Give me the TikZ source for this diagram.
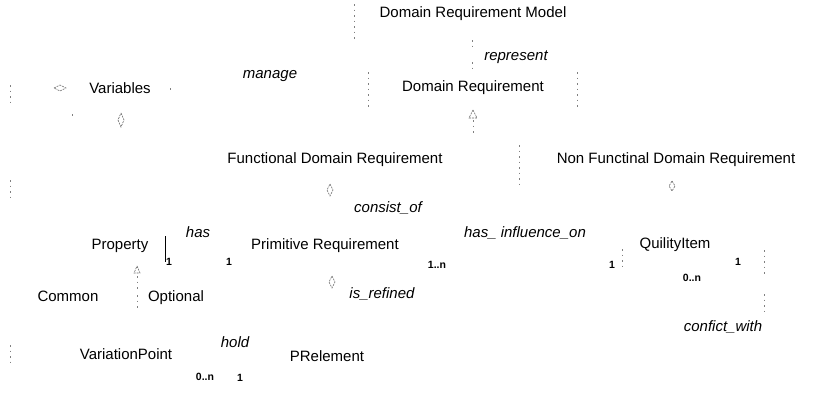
\documentclass[tikz,border=0pt]{standalone}
\usepackage{fontspec}
\setmainfont{Liberation Sans}
\begin{document}
\begin{tikzpicture}[x=1pt,y=-1pt,
  lbl/.style={inner sep=0pt,font=\fontsize{15}{18}\selectfont},
  rel/.style={inner sep=0pt,font=\fontsize{15}{18}\selectfont\itshape},
  mult/.style={inner sep=0pt,font=\fontsize{10.5}{13}\selectfont\bfseries},
  frag/.style={draw=black!50,line width=0.7pt,dash pattern=on 1.5pt off 4pt},
  dia/.style={draw=black!60,line width=0.6pt,dash pattern=on 2pt off 1pt}]
\useasboundingbox (0,0) rectangle (829,416);
% class labels
\node[lbl] (drm) at (473,14) {Domain Requirement Model};
\node[rel] (represent) at (516,57) {represent};
\node[lbl] (dr) at (473,88) {Domain Requirement};
\node[lbl] (var) at (120,88) {Variables};
\node[rel] (manage) at (270,76) {manage};
\node[lbl] (fdr) at (335,160) {Functional Domain Requirement};
\node[lbl] (nfdr) at (676,160) {Non Functinal Domain Requirement};
\node[rel] (consist) at (388,208) {consist\_of};
\node[rel] (has) at (198,232) {has};
\node[lbl] (prop) at (120,246) {Property};
\node[lbl] (prim) at (325,246) {Primitive Requirement};
\node[rel] (infl) at (525,233) {has\_ influence\_on};
\node[lbl] (qi) at (675,245) {QuilityItem};
\node[mult] (m1) at (169,262) {1};
\node[mult] (m2) at (229,262) {1};
\node[mult] (m3) at (437,265) {1..n};
\node[mult] (m4) at (612,265) {1};
\node[mult] (m5) at (738,262) {1};
\node[mult] (m6) at (692,278) {0..n};
\node[lbl] (common) at (68,296) {Common};
\node[lbl] (opt) at (176,298) {Optional};
\node[rel] (refined) at (382,294) {is\_refined};
\node[rel] (conf) at (723,327) {confict\_with};
\node[lbl] (vp) at (126,354) {VariationPoint};
\node[rel] (hold) at (235,342) {hold};
\node[lbl] (pre) at (327,356) {PRelement};
\node[mult] (m7) at (205,377) {0..n};
\node[mult] (m8) at (240,378) {1};
% diamonds and triangles
\draw[dia] (54,88) -- (60,85) -- (66,88) -- (60,91) -- cycle;
\draw[dia] (121,113) -- (124,120) -- (121,127) -- (118,120) -- cycle;
\draw[dia] (330,184) -- (333,190) -- (330,196) -- (327,190) -- cycle;
\draw[dia] (672,181) -- (675,186) -- (672,191) -- (669,186) -- cycle;
\draw[dia] (332,276) -- (335,282) -- (332,288) -- (329,282) -- cycle;
\draw[dia] (473,110) -- (477,118) -- (469,118) -- cycle;
\draw[dia] (137,266) -- (140,273) -- (134,273) -- cycle;
% solid bar beside Property
\draw[black,line width=0.8pt] (165,236) -- (165,262);
% faint fragments
\draw[frag] (354,4) -- (354,40);
\draw[frag] (472,40) -- (472,48);
\draw[frag] (472,62) -- (472,68);
\draw[frag] (368,72) -- (368,110);
\draw[frag] (577,72) -- (577,108);
\draw[frag] (473,120) -- (473,136);
\draw[frag] (519,145) -- (519,186);
\draw[frag] (622,249) -- (622,268);
\draw[frag] (764,250) -- (764,276);
\draw[frag] (764,294) -- (764,312);
\draw[frag] (10,85) -- (10,102);
\draw[frag] (10,180) -- (10,200);
\draw[frag] (10,345) -- (10,366);
\draw[frag] (137,276) -- (137,290);
\draw[frag] (137,295) -- (137,308);
\draw[frag] (72,114) -- (72,118);
\draw[frag] (170,88) -- (170,92);
\end{tikzpicture}
\end{document}
